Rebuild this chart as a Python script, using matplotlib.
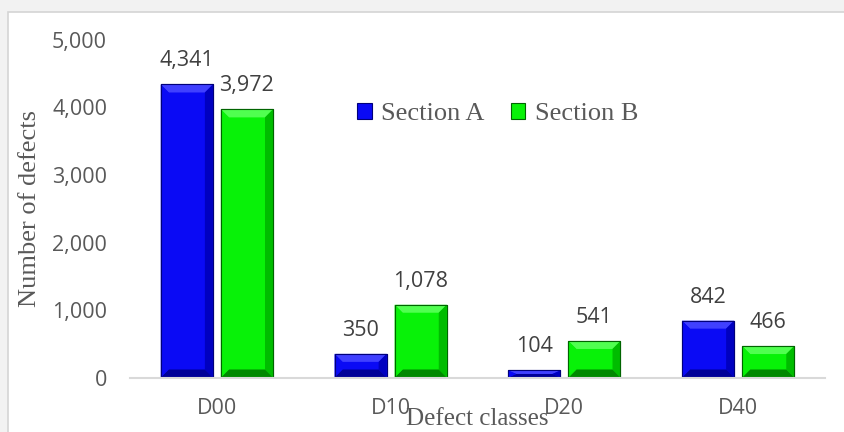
import matplotlib
matplotlib.use("Agg")
import matplotlib.pyplot as plt
from matplotlib.patches import Polygon, Rectangle
import numpy as np

# data
classes = ["D00", "D10", "D20", "D40"]
section_a = [4341, 350, 104, 842]
section_b = [3972, 1078, 541, 466]
series_names = ["Section A", "Section B"]

face_cols = ["#0a0af5", "#08f208"]
light_cols = ["#4040ff", "#50ff50"]
side_cols = ["#0000c0", "#00bc00"]
dark_cols = ["#000098", "#008800"]
edge_cols = ["#00007a", "#006400"]

text_col = "#595959"


def bevel(ax, bar, k, bx, by):
    x0, y0 = bar.get_x(), bar.get_y()
    w, h = bar.get_width(), bar.get_height()
    x1, y1 = x0 + w, y0 + h
    dy = min(by, h / 2)
    dx = min(bx, w / 2)
    # top, right, bottom, left faces
    faces = [
        ([(x0, y1), (x1, y1), (x1 - dx, y1 - dy), (x0 + dx, y1 - dy)], light_cols[k]),
        ([(x1, y1), (x1, y0), (x1 - dx, y0 + dy), (x1 - dx, y1 - dy)], side_cols[k]),
        ([(x0, y0), (x1, y0), (x1 - dx, y0 + dy), (x0 + dx, y0 + dy)], dark_cols[k]),
        ([(x0, y0), (x0, y1), (x0 + dx, y1 - dy), (x0 + dx, y0 + dy)], face_cols[k]),
    ]
    for pts, c in faces:
        ax.add_patch(Polygon(pts, closed=True, facecolor=c, edgecolor="none", zorder=3))
    ax.add_patch(Rectangle((x0, y0), w, h, facecolor="none",
                           edgecolor=edge_cols[k], lw=0.8, zorder=4))


fig = plt.figure(figsize=(8.45, 4.32), dpi=100, facecolor="#f2f2f2")
fig.patches.append(Rectangle((8 / 845, -0.01), 1.0, (432 - 12) / 432 + 0.01,
                             transform=fig.transFigure, facecolor="white",
                             edgecolor="#d4d4d4", lw=1.2, zorder=-10))
ax = fig.add_axes([130 / 845, 1 - 377.5 / 432, 695 / 845, 337.5 / 432])
ax.set_facecolor("none")

x = np.arange(len(classes))
width = 0.30
off = 0.173

bx = 8 / 174
by = 8 * 5000 / 337.5

for k, vals in enumerate([section_a, section_b]):
    pos = x - off if k == 0 else x + off
    bars = ax.bar(pos, vals, width, color=face_cols[k], label=series_names[k],
                  edgecolor=edge_cols[k], linewidth=0.8, zorder=2)
    for b, v in zip(bars, vals):
        bevel(ax, b, k, bx, by)
        ax.annotate(f"{v:,}", (b.get_x() + b.get_width() / 2, v),
                    xytext=(0, 13), textcoords="offset points",
                    ha="center", va="baseline", fontsize=15.5,
                    family="Open Sans", color="#404040")

ax.set_xlim(-0.5, len(classes) - 0.5)
ax.set_ylim(0, 5000)
ax.set_yticks(np.arange(0, 5001, 1000))
ax.set_yticklabels([f"{t:,}" for t in range(0, 5001, 1000)])
ax.set_xticks(x)
ax.set_xticklabels(classes)

for lab in ax.get_xticklabels() + ax.get_yticklabels():
    lab.set_family("Open Sans")
    lab.set_fontsize(15.5)
    lab.set_color(text_col)
ax.tick_params(axis="y", length=0, pad=16.5)
ax.tick_params(axis="x", length=0, pad=15)

for s in ["top", "right", "left"]:
    ax.spines[s].set_visible(False)
ax.spines["bottom"].set_color("#d9d9d9")
ax.spines["bottom"].set_linewidth(1.5)
ax.spines["bottom"].set_zorder(5)

ax.set_ylabel("Number of defects", family="Liberation Serif", fontsize=19, color=text_col)
ax.yaxis.set_label_coords((41 - 130) / 695, 0.5)
ax.set_xlabel("Defect classes", family="Liberation Serif", fontsize=18, color=text_col)
ax.xaxis.set_label_coords(0.5, (377.5 - 408) / 337.5)

leg = ax.legend(loc="center", bbox_to_anchor=(0.529, 0.78), ncol=2, frameon=False,
                prop={"family": "Liberation Serif", "size": 19},
                handlelength=0.55, handleheight=0.55, handletextpad=0.35,
                columnspacing=1.0)
for t in leg.get_texts():
    t.set_color(text_col)

fig.savefig("out.png", dpi=100, facecolor=fig.get_facecolor())
